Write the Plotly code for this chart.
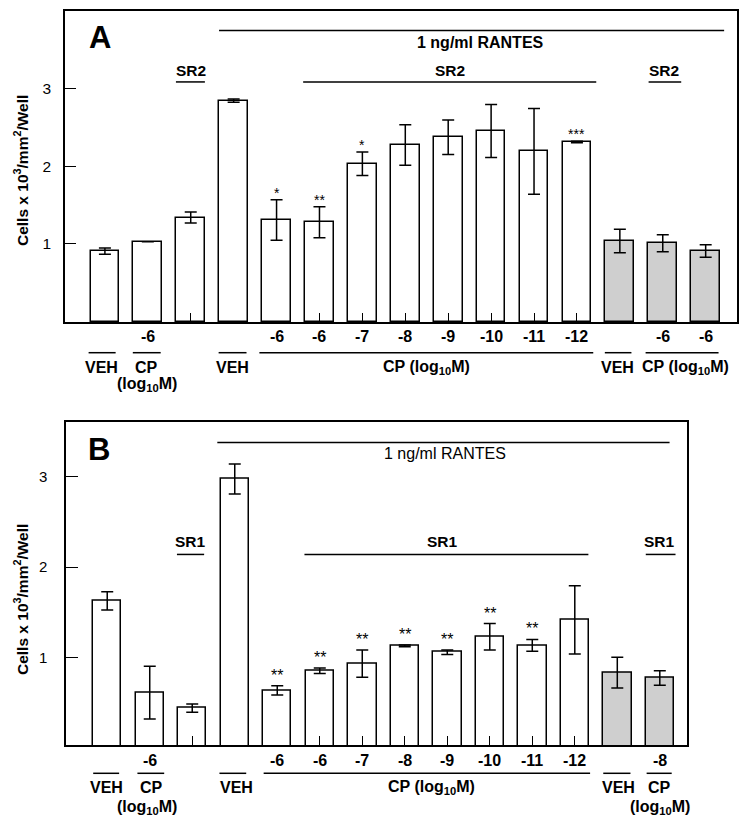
import plotly.graph_objects as go

# ---------------- data ----------------
a_values = [0.91, 1.03, 1.34, 2.84, 1.31, 1.28, 2.03, 2.27, 2.37, 2.45, 2.19, 2.31, 1.04, 1.01, 0.91]
a_errors = [0.04, 0.0, 0.07, 0.02, 0.26, 0.20, 0.15, 0.26, 0.22, 0.34, 0.55, 0.01, 0.15, 0.11, 0.08]
a_stars = ["", "", "", "", "*", "**", "*", "", "", "", "", "***", "", "", ""]
a_dose = ["", "-6", "", "", "-6", "-6", "-7", "-8", "-9", "-10", "-11", "-12", "", "-6", "-6"]
a_gray = [False] * 12 + [True] * 3

b_values = [1.63, 0.62, 0.45, 2.97, 0.645, 0.86, 0.94, 1.135, 1.065, 1.235, 1.14, 1.42, 0.84, 0.78]
b_errors = [0.10, 0.29, 0.045, 0.165, 0.05, 0.03, 0.15, 0.01, 0.025, 0.145, 0.065, 0.375, 0.17, 0.08]
b_stars = ["", "", "", "", "**", "**", "**", "**", "**", "**", "**", "", "", ""]
b_dose = ["", "-6", "", "", "-6", "-6", "-7", "-8", "-9", "-10", "-11", "-12", "", "-8"]
b_gray = [False] * 12 + [True] * 2

y_ticks = [1, 2, 3]
inner_ticks = [2, 5, 6, 7, 8, 9, 10, 11]

W, H = 746, 823
FONT = "Liberation Sans, Arial, Helvetica, sans-serif"
GRAY = "#cfcfcf"
LBL = 16


def py(p):
    return 1 - p / H


fig = go.Figure()

for vals, errs, gray, xa, ya in [(a_values, a_errors, a_gray, "x", "y"),
                                 (b_values, b_errors, b_gray, "x2", "y2")]:
    fig.add_trace(go.Bar(
        x=list(range(len(vals))), y=vals, width=0.67,
        marker=dict(color=[GRAY if g else "white" for g in gray],
                    line=dict(color="black", width=1.5)),
        error_y=dict(type="data", array=errs, visible=True, color="black",
                     thickness=1.5, width=6),
        xaxis=xa, yaxis=ya, showlegend=False, hoverinfo="skip"))

ann = []
shapes = []


def txt(x, y, s, xref, yref, size=LBL, bold=True, xanchor="center", yanchor="middle", **kw):
    ann.append(dict(x=x, y=y, xref=xref, yref=yref, text=(f"<b>{s}</b>" if bold else s),
                    showarrow=False, xanchor=xanchor, yanchor=yanchor,
                    font=dict(family=FONT, size=size, color="black"), **kw))


def line(x0, x1, y0, y1, xref, yref, w=1.5):
    shapes.append(dict(type="line", x0=x0, x1=x1, y0=y0, y1=y1, xref=xref, yref=yref,
                       line=dict(color="black", width=w)))


# stars
for i, s in enumerate(a_stars):
    if s:
        txt(i, a_values[i] + a_errors[i], s, "x", "y", size=14, bold=False,
            yanchor="bottom", yshift=-3)
for i, s in enumerate(b_stars):
    if s:
        txt(i, b_values[i] + b_errors[i], s, "x2", "y2", size=16, bold=False,
            yanchor="bottom", yshift=0)

# ---------- Panel A annotations ----------
txt(-0.12, 3.65, "A", "x", "y", size=31)
line(2.66, 14.43, 3.74, 3.74, "x", "y")
txt(8.76, 3.59, "1 ng/ml RANTES", "x", "y", size=16)
for tx, l0, l1 in [(2.0, 1.655, 2.33), (8.04, 4.62, 11.45), (13.03, 12.67, 13.43)]:
    txt(tx, 3.23, "SR2", "x", "y", size=15.5)
    line(l0, l1, 3.08, 3.08, "x", "y")
for i, d in enumerate(a_dose):
    if d:
        txt(i, py(337), d, "x", "paper")
for l0, l1 in [(-0.38, 0.25), (0.65, 1.3), (2.65, 3.3), (3.6, 11.38), (11.65, 12.27), (12.6, 14.3)]:
    line(l0, l1, py(352.7), py(352.7), "x", "paper")
for tx, s in [(-0.08, "VEH"), (0.96, "CP"), (2.98, "VEH"), (7.5, "CP (log<sub>10</sub>M)"),
              (11.95, "VEH"), (13.54, "CP (log<sub>10</sub>M)")]:
    txt(tx, py(367.5), s, "x", "paper")
txt(0.99, py(384.5), "(log<sub>10</sub>M)", "x", "paper")

# ---------- Panel B annotations ----------
txt(-0.19, 3.29, "B", "x2", "y2", size=31)
line(2.59, 13.23, 3.37, 3.37, "x2", "y2")
txt(7.95, 3.25, "1 ng/ml RANTES", "x2", "y2", size=16, bold=False)
for tx, l0, l1 in [(1.95, 1.64, 2.28), (7.88, 4.64, 11.32), (13.0, 12.67, 13.37)]:
    txt(tx, 2.28, "SR1", "x2", "y2", size=15.5)
    line(l0, l1, 2.14, 2.14, "x2", "y2")
for i, d in enumerate(b_dose):
    if d:
        txt(i, py(760), d, "x2", "paper")
for l0, l1 in [(-0.33, 0.28), (0.71, 1.34), (2.64, 3.27), (3.68, 11.36), (11.67, 12.31), (12.69, 13.28)]:
    line(l0, l1, py(773.3), py(773.3), "x2", "paper")
for tx, s in [(-0.02, "VEH"), (1.04, "CP"), (3.04, "VEH"), (7.62, "CP (log<sub>10</sub>M)"),
              (12.02, "VEH"), (12.99, "CP")]:
    txt(tx, py(787.5), s, "x2", "paper")
txt(0.93, py(807), "(log<sub>10</sub>M)", "x2", "paper")
txt(13.0, py(807), "(log<sub>10</sub>M)", "x2", "paper")

# y titles
ytitle = "Cells x 10<sup>3</sup>/mm<sup>2</sup>/Well"
txt(21 / W, py(171), ytitle, "paper", "paper", size=15.5, textangle=-90)
txt(21 / W, py(600), ytitle, "paper", "paper", size=15.5, textangle=-90)

axis_common = dict(showline=True, linecolor="black", linewidth=1.5, mirror=True,
                   showgrid=False, zeroline=False)

# visible inward ticks drawn as minor ticks; major ticks are transparent and set the label gap
minor_y = [v + 1e-3 for v in y_ticks]

fig.update_layout(
    width=W, height=H,
    margin=dict(l=0, r=0, t=0, b=0),
    paper_bgcolor="white", plot_bgcolor="white",
    bargap=0,
    xaxis=dict(domain=[65 / W, 737 / W], range=[-0.93, 14.73], anchor="y",
               tickvals=inner_ticks, ticks="inside", ticklen=9, tickcolor="black",
               tickwidth=1, showticklabels=False, **axis_common),
    yaxis=dict(domain=[py(322), py(11)], range=[0, 3.99], anchor="x",
               tickvals=y_ticks, ticks="outside", ticklen=9, tickcolor="rgba(0,0,0,0)",
               tickfont=dict(family=FONT, size=15.5, color="black"),
               tickprefix="<b>", ticksuffix="</b>",
               minor=dict(tickmode="array", tickvals=minor_y, ticks="inside", ticklen=11,
                          tickcolor="black", tickwidth=1.2, showgrid=False),
               **axis_common),
    xaxis2=dict(domain=[66 / W, 687 / W], range=[-0.97, 13.64], anchor="y2",
                tickvals=inner_ticks, ticks="inside", ticklen=9, tickcolor="black",
                tickwidth=1, showticklabels=False, **axis_common),
    yaxis2=dict(domain=[py(745), py(421.7)], range=[0.044, 3.6], anchor="x2",
                tickvals=y_ticks, ticks="outside", ticklen=14, tickcolor="rgba(0,0,0,0)",
                tickfont=dict(family=FONT, size=15, color="black"),
                minor=dict(tickmode="array", tickvals=minor_y, ticks="inside", ticklen=12,
                           tickcolor="black", tickwidth=1.2, showgrid=False),
                **axis_common),
    annotations=ann,
    shapes=shapes,
)

fig.write_html("out.html", config={"displayModeBar": False},
               post_script="document.body.style.margin='0px';document.body.style.padding='0px';")
